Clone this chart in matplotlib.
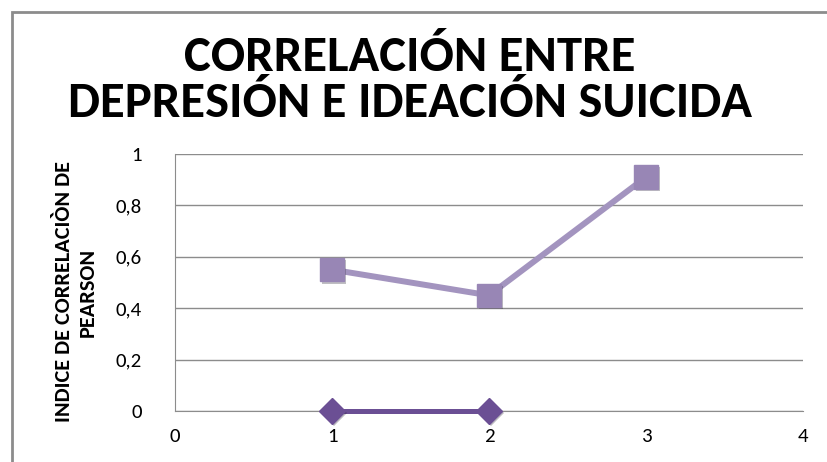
import matplotlib
matplotlib.use("Agg")
import matplotlib.pyplot as plt
from matplotlib.patches import Rectangle
import matplotlib.patheffects as pe

x_vals = [1, 2, 3]
series_square = [0.55, 0.45, 0.91]
x_diamond = [1, 2]
series_diamond = [0.0, 0.0]
y_ticks = [0, 0.2, 0.4, 0.6, 0.8, 1.0]
y_tick_labels = ["0", "0,2", "0,4", "0,6", "0,8", "1"]
x_ticks = [0, 1, 2, 3, 4]
title = "CORRELACIÓN ENTRE\nDEPRESIÓN E IDEACIÓN SUICIDA"
ylabel = "INDICE DE CORRELACIÒN DE\nPEARSON"

FONT = ["Carlito", "DejaVu Sans"]

fig = plt.figure(figsize=(8.28, 4.62), dpi=100)
fig.patches.append(Rectangle((12/828, -0.1), 2, 1.1 - 12/462, transform=fig.transFigure,
                             fill=False, edgecolor="#8c8c8c", linewidth=2))

ax = fig.add_axes([175/828, 1 - 411/462, (803-175)/828, (411-154)/462])
ax.set_xlim(0, 4)
ax.set_ylim(0, 1)
ax.set_yticks(y_ticks)
ax.set_yticklabels(y_tick_labels)
ax.set_xticks(x_ticks)
ax.grid(axis="y", color="#8c8c8c", linewidth=1)
ax.set_axisbelow(True)
for s in ["top", "right"]:
    ax.spines[s].set_visible(False)
for s in ["left", "bottom"]:
    ax.spines[s].set_color("#8c8c8c")
ax.tick_params(axis="both", length=0, labelsize=15, colors="black", labelfontfamily="Carlito")
ax.tick_params(axis="y", pad=24)
ax.tick_params(axis="x", pad=12)

shadow = [pe.SimplePatchShadow(offset=(1.5, -1.5), alpha=0.3), pe.Normal()]

ax.plot(x_vals, series_square, color="#a394bf", linewidth=4.3, zorder=3, clip_on=False)
ax.plot(x_vals, series_square, linestyle="none", marker="s", markersize=17,
        markerfacecolor="#9886b5", markeredgecolor="#9886b5", zorder=4, clip_on=False,
        path_effects=shadow)
ax.plot(x_diamond, series_diamond, color="#6b4f94", linewidth=3.6, zorder=3, clip_on=False)
ax.plot(x_diamond, series_diamond, linestyle="none", marker="D", markersize=13,
        markerfacecolor="#6b4f94", markeredgecolor="#6b4f94", zorder=4, clip_on=False,
        path_effects=shadow)

fig.text(410/828, 1 - 80/462, title, ha="center", va="center", fontsize=36.5, fontweight="bold",
         family=FONT, linespacing=1.07)
fig.text(76/828, 1 - 292/462, ylabel, rotation=90, ha="center", va="center", fontsize=16,
         fontweight="bold", family=FONT, linespacing=1.25)

fig.savefig("out.png", dpi=100)
